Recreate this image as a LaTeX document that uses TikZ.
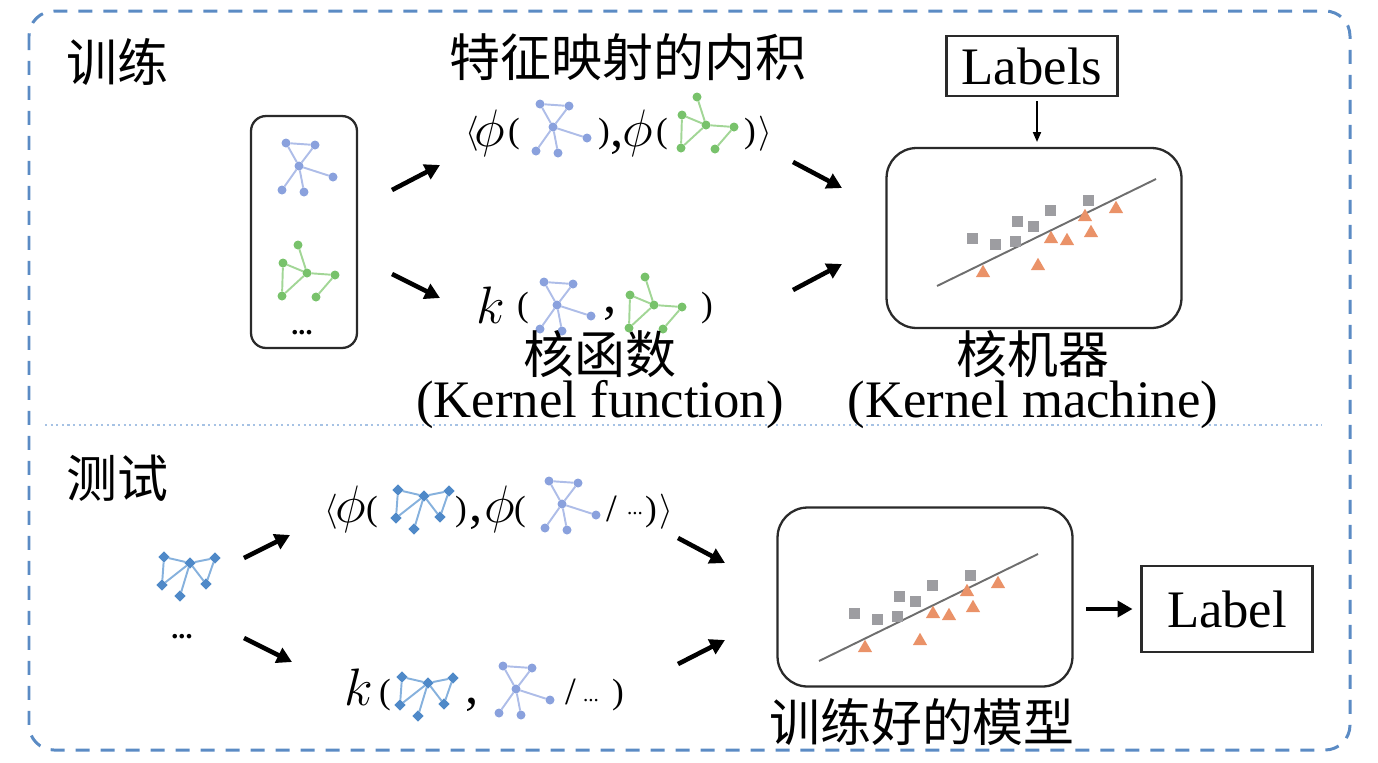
\RequirePackage{fix-cm}
\documentclass[tikz,border=0pt]{standalone}
\usepackage{fontspec}
\setmainfont{Liberation Serif}
\newfontfamily\cjk{Noto Sans CJK SC}
\usetikzlibrary{arrows.meta,shapes.geometric}
\definecolor{framec}{HTML}{5B8BC4}
\definecolor{sepc}{HTML}{A6C2E4}
\definecolor{boxc}{HTML}{2A2A2A}
\definecolor{stardotc}{HTML}{8AA1DD}
\definecolor{staredgec}{HTML}{AEBDE8}
\definecolor{greendotc}{HTML}{78C26B}
\definecolor{greenedgec}{HTML}{A2D696}
\definecolor{bowdotc}{HTML}{4F89C8}
\definecolor{bowedgec}{HTML}{86B1DD}
\definecolor{sqc}{HTML}{9D9DA1}
\definecolor{tric}{HTML}{EA9268}
\definecolor{fitc}{HTML}{6E6E6E}
% small graphs: #1 name prefix, #2 centre
\newcommand{\stargraph}[2]{%
  \begin{scope}[shift={#2}]
    \node[stardot] (#1c) at (0,0) {};
    \node[stardot] (#1a) at (-13,-23) {};
    \node[stardot] (#1b) at (16,-21) {};
    \node[stardot] (#1d) at (34,11) {};
    \node[stardot] (#1e) at (-17,24) {};
    \node[stardot] (#1f) at (5,26) {};
    \draw[staredge] (#1a) -- (#1b) -- (#1c) -- (#1a) (#1c) -- (#1d) (#1c) -- (#1e) (#1c) -- (#1f);
  \end{scope}}
\newcommand{\greengraph}[2]{%
  \begin{scope}[shift={#2}]
    \node[greendot] (#1r) at (0,0) {};
    \node[greendot] (#1p) at (-9,-28) {};
    \node[greendot] (#1q) at (-24,-10) {};
    \node[greendot] (#1s) at (28,2) {};
    \node[greendot] (#1t) at (-25,23) {};
    \node[greendot] (#1u) at (9,24) {};
    \draw[greenedge] (#1p) -- (#1r) (#1q) -- (#1r) -- (#1t) -- (#1q) (#1r) -- (#1s) -- (#1u);
  \end{scope}}
\newcommand{\bowgraph}[2]{%
  \begin{scope}[shift={#2}]
    \node[bowdot] (#1c) at (0,0) {};
    \node[bowdot] (#1a) at (-26,-6) {};
    \node[bowdot] (#1b) at (25,-5) {};
    \node[bowdot] (#1d) at (-28,22) {};
    \node[bowdot] (#1e) at (16,21) {};
    \node[bowdot] (#1f) at (-10,33) {};
    \draw[bowedge] (#1a) -- (#1c) -- (#1b) -- (#1e) -- (#1c) -- (#1d) -- (#1a) (#1c) -- (#1f);
  \end{scope}}
% scatter with separating line: #1 prefix, #2 left end of line
\newcommand{\scatterplot}[2]{%
  \begin{scope}[shift={#2}]
    \coordinate (#1l0) at (0,0);
    \coordinate (#1l1) at (219,-107);
    \draw[fitline] (#1l0) -- (#1l1);
    \foreach \x/\y [count=\i] in {35/-48,58/-42,78/-45,80/-65,96/-60,113/-76,151/-86}
      \node[sqpt] (#1s\i) at (\x,\y) {};
    \foreach \x/\y [count=\i] in {46/-13,101/-20,114/-47,130/-45,148/-69,154/-53,179/-77}
      \node[tript] (#1t\i) at (\x,\y) {};
  \end{scope}}

\begin{document}
\begin{tikzpicture}[x=0.02cm, y=-0.02cm,
  every node/.style={inner sep=0pt, outer sep=0pt},
  cjktext/.style={font=\cjk\fontsize{29}{31}\selectfont},
  txt/.style={font=\fontsize{30}{32}\selectfont},
  bigsym/.style={font=\fontsize{30}{32}\selectfont, anchor=base},
  smallsym/.style={font=\fontsize{20}{22}\selectfont, anchor=base},
  slashsym/.style={font=\fontsize{22}{24}\selectfont, anchor=base},
  dotsym/.style={font=\fontsize{12}{12}\selectfont, anchor=base},
  boxdots/.style={font=\bfseries\fontsize{16}{16}\selectfont},
  roundbox/.style={draw=boxc, line width=1.3pt},
  labelbox/.style={draw=boxc, line width=1.6pt, font=\fontsize{30}{32}\selectfont},
  bigarrow/.style={line width=2.6pt, -{Triangle[length=0.3cm, width=0.32cm]}},
  thinarrow/.style={line width=1.1pt, -{Triangle[length=0.2cm, width=0.16cm]}},
  stardot/.style={circle, fill=stardotc, minimum size=0.18cm},
  staredge/.style={draw=staredgec, line width=1.1pt},
  greendot/.style={circle, fill=greendotc, minimum size=0.18cm},
  greenedge/.style={draw=greenedgec, line width=1.1pt},
  bowdot/.style={rectangle, fill=bowdotc, minimum size=0.16cm, rotate=45},
  bowedge/.style={draw=bowedgec, line width=1.1pt},
  sqpt/.style={rectangle, fill=sqc, minimum size=0.22cm},
  tript/.style={regular polygon, regular polygon sides=3, fill=tric, minimum size=0.33cm},
  fitline/.style={draw=fitc, line width=1.1pt}]
\useasboundingbox (0,0) rectangle (1378,762);
\draw[framec, line width=1.7pt, dash pattern=on 0.28cm off 0.22cm, rounded corners=0.5cm] (29,11) rectangle (1350,750);
\draw[sepc, line width=1.2pt, dotted] (45,425) -- (1322,425);

% training
\node[cjktext] (train) at (117,62) {训练};
\node[roundbox, rounded corners=0.3cm, minimum width=2.12cm, minimum height=4.64cm] (trainbox) at (304,232) {};
\stargraph{ga}{(299,166)}
\greengraph{gb}{(307,273)}
\node[boxdots] (traindots) at (302,333) {...};

\node[cjktext] (inner) at (628,57) {特征映射的内积};
\foreach \x/\y/\s/\t [count=\i] in {472/142/smallsym/{$\langle$}, 490/146/bigsym/{$\phi$}, 514/142/smallsym/{(},
    604/142/smallsym/{)}, 617/146/bigsym/{,}, 638/146/bigsym/{$\phi$}, 662/142/smallsym/{(},
    750/142/smallsym/{)}, 765/142/smallsym/{$\rangle$}}
  \node[\s] (ta\i) at (\x,\y) {\t};
\stargraph{gc}{(553,127)}
\greengraph{gd}{(706,125)}

\foreach \x/\y/\s/\t [count=\i] in {491/323/bigsym/{$k$}, 523/316/smallsym/{(}, 610/312/bigsym/{,}, 707/316/smallsym/{)}}
  \node[\s] (tb\i) at (\x,\y) {\t};
\stargraph{ge}{(557,305)}
\greengraph{gf}{(654,305)}
\node[cjktext] (kfun) at (600,354) {核函数};
\node[txt] (kfunen) at (600,405) {(Kernel function)};

\node[labelbox, minimum width=3.42cm, minimum height=1.2cm] (labels) at (1032,66) {Labels};
\node[roundbox, rounded corners=0.6cm, minimum width=5.9cm, minimum height=3.6cm] (kmtop) at (1034,238) {};
\scatterplot{sa}{(937,286)}
\node[cjktext] (kmach) at (1033,354) {核机器};
\node[txt] (kmachen) at (1033,405) {(Kernel machine)};

\coordinate (a1s) at (392,190); \coordinate (a1e) at (440,165);
\coordinate (a2s) at (392,274); \coordinate (a2e) at (440,298);
\coordinate (a3s) at (793,162); \coordinate (a3e) at (842,188);
\coordinate (a4s) at (793,290); \coordinate (a4e) at (842,264);
\draw[bigarrow] (a1s) -- (a1e);
\draw[bigarrow] (a2s) -- (a2e);
\draw[bigarrow] (a3s) -- (a3e);
\draw[bigarrow] (a4s) -- (a4e);
\draw[thinarrow] ([xshift=0.1cm, yshift=-0.1cm]labels.south) -- ([xshift=0.1cm, yshift=0.12cm]labels.south |- kmtop.north);

% test
\node[cjktext] (test) at (117,478) {测试};
\bowgraph{gg}{(190,563)}
\node[boxdots] (testdots) at (182,637) {...};

\foreach \x/\y/\s/\t [count=\i] in {331/520/smallsym/{$\langle$}, 351/522/bigsym/{$\phi$}, 372/520/smallsym/{(},
    461/520/smallsym/{)}, 476/521/bigsym/{,}, 500/522/bigsym/{$\phi$}, 520/520/smallsym/{(},
    612/521/slashsym/{/}, 635/514/dotsym/{...}, 651/520/smallsym/{)}, 666/520/smallsym/{$\rangle$}}
  \node[\s] (tc\i) at (\x,\y) {\t};
\bowgraph{gh}{(424,496)}
\stargraph{gi}{(562,504)}

\foreach \x/\y/\s/\t [count=\i] in {359/705/bigsym/{$k$}, 385/703/smallsym/{(}, 472/703/bigsym/{,},
    571/704/slashsym/{/}, 591/701/dotsym/{...}, 618/703/smallsym/{)}}
  \node[\s] (td\i) at (\x,\y) {\t};
\bowgraph{gj}{(428,683)}
\stargraph{gk}{(516,689)}

\node[roundbox, rounded corners=0.6cm, minimum width=5.9cm, minimum height=3.58cm] (kmtest) at (925,597) {};
\scatterplot{sb}{(819,661)}
\node[cjktext] (trained) at (922,722) {训练好的模型};
\node[labelbox, minimum width=3.42cm, minimum height=1.72cm] (label) at (1227,609) {Label};

\coordinate (a5s) at (244,558); \coordinate (a5e) at (290,535);
\coordinate (a6s) at (244,638); \coordinate (a6e) at (292,662);
\coordinate (a7s) at (678,538); \coordinate (a7e) at (725,563);
\coordinate (a8s) at (678,664); \coordinate (a8e) at (725,640);
\draw[bigarrow] (a5s) -- (a5e);
\draw[bigarrow] (a6s) -- (a6e);
\draw[bigarrow] (a7s) -- (a7e);
\draw[bigarrow] (a8s) -- (a8e);
\draw[bigarrow, shorten <=0.28cm, shorten >=0.18cm] (kmtest.east |- label.west) -- (label.west);
\end{tikzpicture}
\end{document}
